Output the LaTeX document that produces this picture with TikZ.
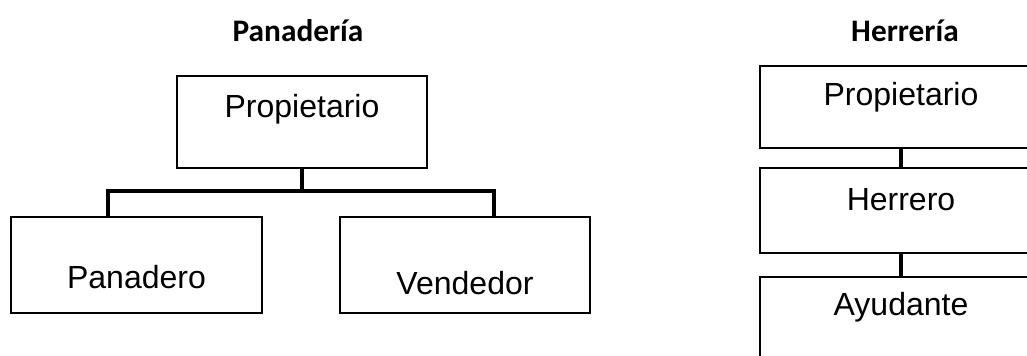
\documentclass[tikz,border=0pt]{standalone}
\usepackage{fontspec}
\setmainfont{Liberation Sans}
\newfontfamily\titlefont{Carlito}
\tikzset{
    post/.style 2 args = {
        draw, line width=1.5pt, inner sep=0, outer sep=0,
        label={[anchor=center, yshift=-#2, font=\fontsize{24}{28}\selectfont]north:#1}
    },
    heading/.style = {font=\titlefont\bfseries\fontsize{23.5}{28}\selectfont},
    link/.style = {line width=2.6pt}
}

\begin{document}
\begin{tikzpicture}[x=0.75pt, y=-0.75pt]
    \useasboundingbox (0,0) rectangle (1027,356);
    \clip (0,0) rectangle (1027,356);
    % Panaderia
    \node[heading] (bakery) at (298,31) {Panadería};
    \node[post={Propietario}{25pt}, minimum width=187.5pt, minimum height=69pt] (owner) at (302,122) {};
    \node[post={Panadero}{45pt}, minimum width=188.25pt, minimum height=72pt] (baker) at (136.5,265) {};
    \node[post={Vendedor}{49.5pt}, minimum width=187.5pt, minimum height=72pt] (seller) at (465,265) {};
    \coordinate (fork) at (302,191);
    \coordinate (dropL) at (108,217);
    \coordinate (dropR) at (494,217);
    \draw[link] (owner.south) -- (fork);
    \draw[link] (dropL) |- (fork) -| (dropR);
    % Herreria
    \node[heading] (smithy) at (905,31) {Herrería};
    \node[post={Propietario}{23.5pt}, minimum width=211.5pt, minimum height=61.5pt] (master) at (901,107) {};
    \node[post={Herrero}{24pt}, minimum width=211.5pt, minimum height=63.75pt] (smith) at (901,210.5) {};
    \node[post={Ayudante}{23pt}, minimum width=211.5pt, minimum height=63.75pt] (helper) at (901,319.5) {};
    \draw[link] (master.south) -- (smith.north);
    \draw[link] (smith.south) -- (helper.north);
\end{tikzpicture}
\end{document}
